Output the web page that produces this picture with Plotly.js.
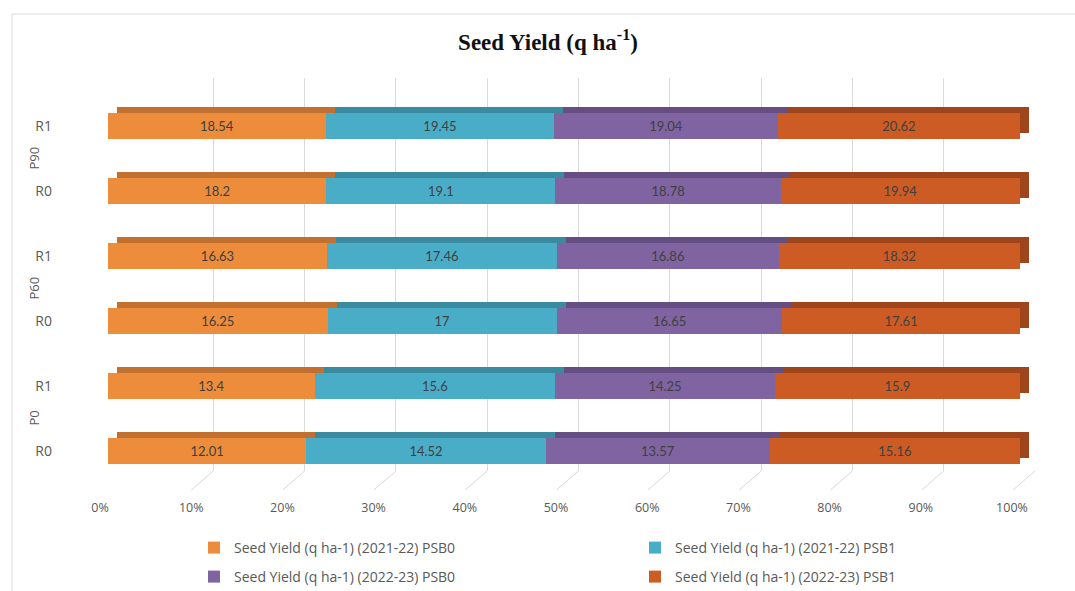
<!DOCTYPE html>
<html>
<head>
<meta charset="utf-8">
<script src="https://cdn.plot.ly/plotly-3.0.1.min.js"></script>
<style>html,body{margin:0;padding:0;background:#fff;overflow:hidden;}#chart{width:1075px;height:591px;}</style>
</head>
<body>
<div id="chart"></div>
<script>
// ---- data ----
const groups = ['P0', 'P0', 'P60', 'P60', 'P90', 'P90'];
const subs = ['R0', 'R1', 'R0', 'R1', 'R0', 'R1'];
const seriesNames = [
  'Seed Yield (q ha-1) (2021-22) PSB0',
  'Seed Yield (q ha-1) (2021-22) PSB1',
  'Seed Yield (q ha-1) (2022-23) PSB0',
  'Seed Yield (q ha-1) (2022-23) PSB1'
];
const psb0_2122 = [12.01, 13.4, 16.25, 16.63, 18.2, 18.54];
const psb1_2122 = [14.52, 15.6, 17, 17.46, 19.1, 19.45];
const psb0_2223 = [13.57, 14.25, 16.65, 16.86, 18.78, 19.04];
const psb1_2223 = [15.16, 15.9, 17.61, 18.32, 19.94, 20.62];
const xTickVals = [0, 10, 20, 30, 40, 50, 60, 70, 80, 90, 100];
const groupNames = ['P0', 'P60', 'P90'];

// ---- styling ----
const frontColors = ['#ED8C3B', '#4AADC8', '#7F64A1', '#CD5C24'];
const backColors = ['#C2702F', '#3A8AA0', '#654F82', '#9E451C'];
const W = 1075, H = 591;
const px = v => v / W;
const py = v => 1 - v / H;
const GRID = '#D9D9D9';

const cats = groups.map((g, i) => g + ' ' + subs[i]);
const seriesVals = [psb0_2122, psb1_2122, psb0_2223, psb1_2223];

const traces = [];
// empty trace for grid subplot
traces.push({type: 'scatter', x: [], y: [], xaxis: 'x', yaxis: 'y', showlegend: false, hoverinfo: 'skip'});
// back (3D depth) bars
seriesVals.forEach((vals, i) => {
  traces.push({
    type: 'bar', orientation: 'h', x: vals, y: cats,
    xaxis: 'x2', yaxis: 'y2',
    marker: {color: backColors[i], line: {width: 0}},
    showlegend: false, hoverinfo: 'skip'
  });
});
// front bars
seriesVals.forEach((vals, i) => {
  traces.push({
    type: 'bar', orientation: 'h', x: vals, y: cats,
    xaxis: 'x3', yaxis: 'y3',
    name: seriesNames[i],
    legend: i < 2 ? 'legend' : 'legend2',
    marker: {color: frontColors[i], line: {width: 0}},
    text: vals.map(v => String(v)),
    textposition: 'inside', insidetextanchor: 'middle', textangle: 0,
    constraintext: 'none',
    textfont: {family: 'Lato, sans-serif', size: 13, color: '#404040'},
    hovertemplate: '%{y}: %{text}<extra>' + seriesNames[i] + '</extra>'
  });
});

const catAxis = (dom, show) => ({
  domain: dom, type: 'category', categoryorder: 'array', categoryarray: cats,
  range: [-0.5, cats.length - 0.5], showgrid: false, zeroline: false,
  showline: false, ticks: '', showticklabels: show, fixedrange: true
});

const annotations = groupNames.map((g, k) => ({
  text: g, xref: 'paper', yref: 'y3', x: px(33), y: 2 * k + 0.5,
  xanchor: 'center', yanchor: 'middle', textangle: -90, showarrow: false,
  font: {family: 'Open Sans, sans-serif', size: 13, color: '#595959'}
}));

// floor lines of the 3D grid (slanting from back wall to front)
const floorShapes = xTickVals.map(v => ({
  type: 'line', xref: 'x', xsizemode: 'pixel', xanchor: v, x0: 0, x1: -22,
  yref: 'paper', ysizemode: 'pixel', yanchor: py(471), y0: 0, y1: -19,
  line: {color: GRID, width: 1}, layer: 'below'
}));

const legendFont = {family: 'Open Sans, sans-serif', size: 14, color: '#595959'};

const layout = {
  width: W, height: H,
  margin: {l: 0, r: 0, t: 0, b: 0, pad: 0, autoexpand: false},
  paper_bgcolor: '#ffffff', plot_bgcolor: 'rgba(0,0,0,0)',
  barmode: 'stack', barnorm: 'percent', bargap: 0.6,
  title: {
    text: '<b>Seed Yield (q ha<sup>-1</sup>)</b>',
    x: px(548), xanchor: 'center', y: py(42), yanchor: 'middle', xref: 'paper', yref: 'paper',
    font: {family: 'Liberation Serif, serif', size: 23, color: '#111111'}
  },
  // grid subplot (back wall)
  xaxis: {domain: [px(122), px(1035)], range: [0, 100], tickvals: xTickVals, showgrid: true,
          gridcolor: GRID, gridwidth: 1, zeroline: false, showline: false, showticklabels: false,
          ticks: '', anchor: 'y', fixedrange: true, automargin: false},
  yaxis: {domain: [py(471), py(78)], range: [0, 1], visible: false, anchor: 'x', fixedrange: true},
  // back bars
  xaxis2: {domain: [px(117), px(1029)], range: [0, 100], visible: false, anchor: 'y2', fixedrange: true},
  yaxis2: Object.assign(catAxis([py(477), py(87)], false), {anchor: 'x2', visible: false}),
  // front bars
  xaxis3: {domain: [px(108), px(1020)], range: [0, 100], tickvals: xTickVals,
           ticktext: xTickVals.map(v => v + '%'), showgrid: false, zeroline: false, showline: false,
           ticks: '', anchor: 'y3', ticklabelshift: -8, ticklabelstandoff: 15, automargin: false,
           tickfont: {family: 'Open Sans, sans-serif', size: 12.5, color: '#595959'}, fixedrange: true},
  yaxis3: Object.assign(catAxis([py(483.5), py(93.5)], true), {
    anchor: 'x3', tickvals: cats, ticktext: subs, ticklabelstandoff: 55, automargin: false,
    tickfont: {family: 'Open Sans, sans-serif', size: 14, color: '#595959'}
  }),
  legend: {orientation: 'h', x: px(194), xanchor: 'left', y: py(548), yanchor: 'middle',
           entrywidth: 396, font: legendFont, bgcolor: 'rgba(0,0,0,0)', traceorder: 'normal'},
  legend2: {orientation: 'h', x: px(194), xanchor: 'left', y: py(577), yanchor: 'middle',
            entrywidth: 396, font: legendFont, bgcolor: 'rgba(0,0,0,0)', traceorder: 'normal'},
  annotations: annotations,
  shapes: [{type: 'rect', xref: 'paper', yref: 'paper', x0: px(12), x1: 1.01, y0: -0.01, y1: py(14),
            line: {color: GRID, width: 1}, fillcolor: 'rgba(0,0,0,0)', layer: 'below'}].concat(floorShapes),
  showlegend: true
};

Plotly.newPlot('chart', traces, layout, {displayModeBar: false, staticPlot: false});
</script>
</body>
</html>
